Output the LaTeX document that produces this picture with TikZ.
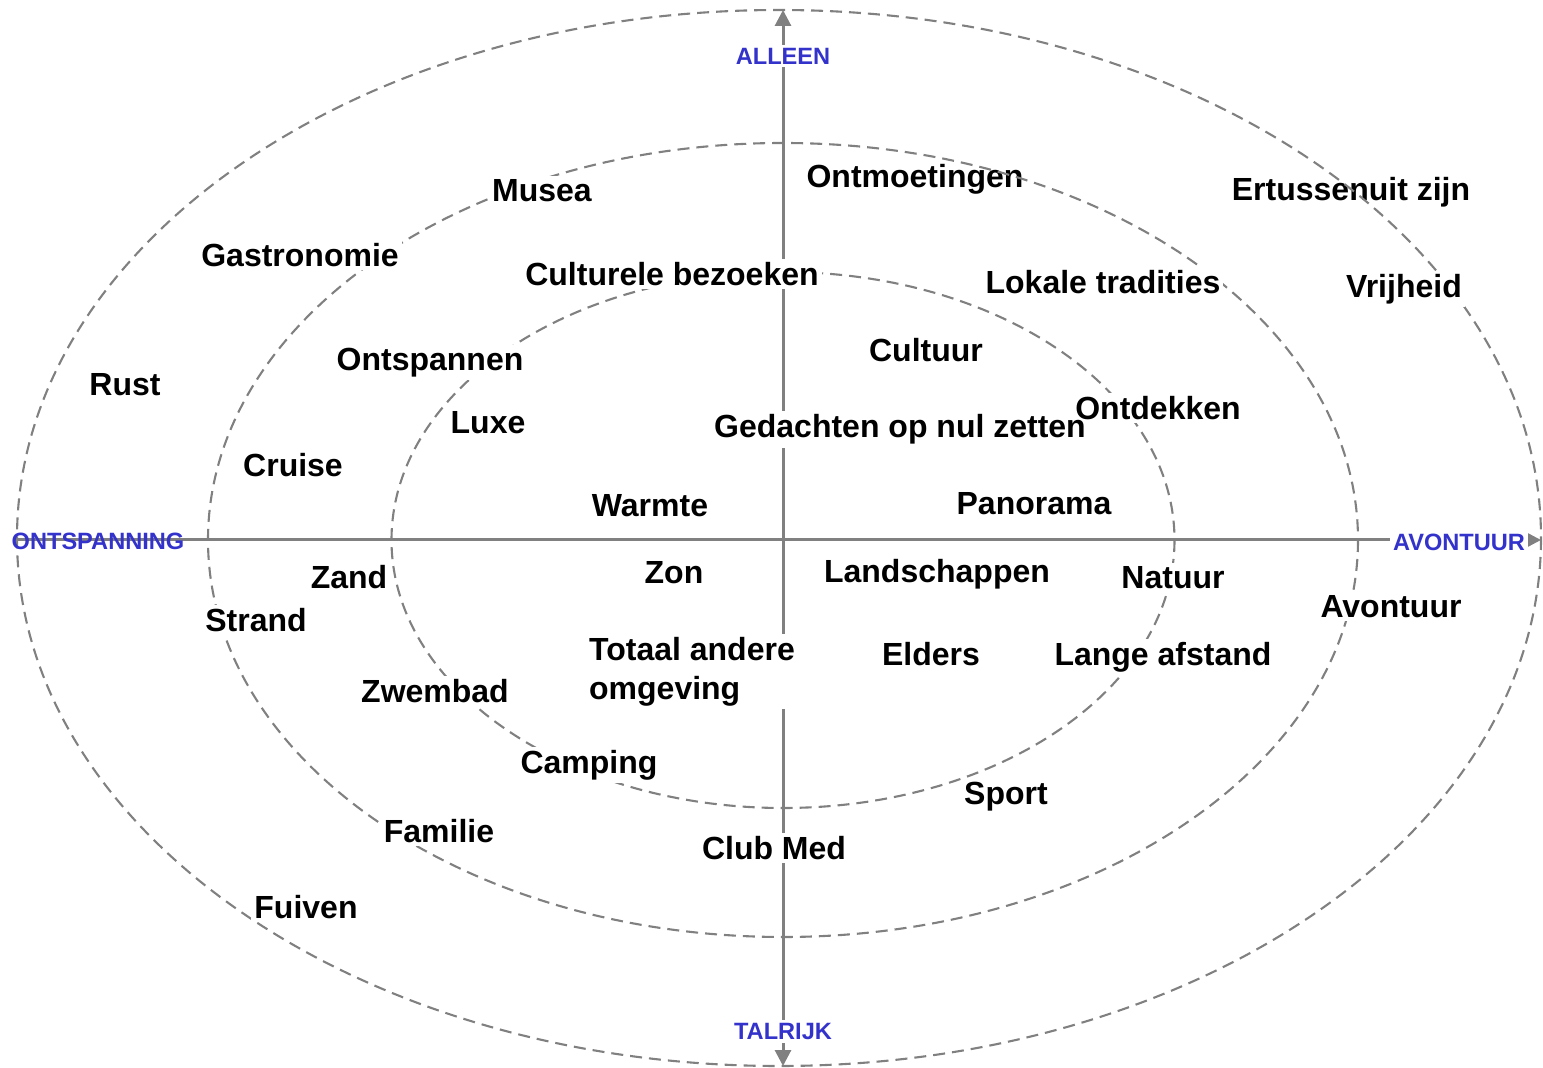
\documentclass[tikz,border=0pt]{standalone}
\usepackage{fontspec}
\setmainfont{Liberation Sans}
\usetikzlibrary{arrows.meta}
\definecolor{axisgray}{RGB}{128,128,128}
\definecolor{axisblue}{RGB}{51,51,204}
\pgfdeclarelayer{lines}
\pgfdeclarelayer{fills}
\pgfsetlayers{lines,fills,main}
\tikzset{
  lbl/.style={font=\fontsize{16pt}{19.5pt}\selectfont\bfseries, text=black, fill=white, inner sep=1.5pt, anchor=base, yshift=-5.75pt},
  lblnf/.style={lbl, fill=none},
  axlbl/.style={font=\fontsize{11.8pt}{14pt}\selectfont\bfseries, text=axisblue, fill=white, inner sep=1.5pt, anchor=base, yshift=-4.2pt},
  ring/.style={draw=axisgray, line width=1.05pt, dash pattern=on 6pt off 3.5pt},
  axisline/.style={draw=axisgray, line width=1.5pt},
  tip/.style={-{Triangle[length=8pt,width=8pt]}}
}
\begin{document}
\begin{tikzpicture}[x=0.5pt,y=-0.5pt]
\useasboundingbox (0,0) rectangle (1543,1068);
\coordinate (c) at (783,540);
\coordinate (top) at (783,10);
\coordinate (bottom) at (783,1066);
\coordinate (left) at (17,540);
\coordinate (right) at (1541,540);
\begin{pgfonlayer}{lines}
% labels crossed by the rings
\node[lblnf] (ontmoetingen) at (915,176) {Ontmoetingen};
\node[lblnf] (ertussenuit) at (1351,189) {Ertussenuit zijn};
% rings
\draw[ring] (779,538) ellipse [x radius=762, y radius=528];
\draw[ring] (c) ellipse [x radius=575, y radius=397];
\draw[ring] (c) ellipse [x radius=391.5, y radius=268];
% axes
\draw[axisline, tip] (c) -- (top);
\draw[axisline, tip] (c) -- (bottom);
\draw[axisline, tip] (c) -- (right);
\draw[axisline] (c) -- (left);
\end{pgfonlayer}
% axis labels
\node[axlbl] (alleen) at (783,56) {ALLEEN};
\node[axlbl] (talrijk) at (783,1031) {TALRIJK};
\node[axlbl] (avontuurax) at (1459,542) {AVONTUUR};
% labels
\node[lbl] (musea) at (542,190) {Musea};
\node[lbl] (gastronomie) at (300,255) {Gastronomie};
\node[lbl] (culturele) at (672,274) {Culturele bezoeken};
\node[lbl] (lokale) at (1103,282) {Lokale tradities};
\node[lbl] (vrijheid) at (1404,286) {Vrijheid};
\node[lbl] (ontspannen) at (430,359) {Ontspannen};
\node[lbl] (cultuur) at (926,350) {Cultuur};
\node[lbl] (rust) at (125,384) {Rust};
\node[lbl] (luxe) at (488,422) {Luxe};
\node[lbl] (ontdekken) at (1158,408) {Ontdekken};
\node[lblnf] (gedachten) at (900,426) {Gedachten op nul zetten};
\begin{pgfonlayer}{fills}
\fill[white] (gedachten.south west) rectangle (gedachten.north east);
\end{pgfonlayer}
\node[lbl] (cruise) at (293,465) {Cruise};
\node[lbl] (warmte) at (650,505) {Warmte};
\node[lbl] (panorama) at (1034,503) {Panorama};
\node[lbl] (zand) at (349,577) {Zand};
\node[lbl] (zon) at (674,572) {Zon};
\node[lbl] (landschappen) at (937,571) {Landschappen};
\node[lbl] (natuur) at (1173,577) {Natuur};
\node[lbl] (strand) at (256,620) {Strand};
\node[lbl] (avontuur) at (1391,606) {Avontuur};
\node[lbl, align=left] (totaal) at (692,688) {Totaal andere\\omgeving};
\node[lbl] (elders) at (931,654) {Elders};
\node[lbl] (lange) at (1163,654) {Lange afstand};
\node[lbl] (zwembad) at (435,691) {Zwembad};
\node[lbl] (camping) at (589,762) {Camping};
\node[lbl] (sport) at (1006,793) {Sport};
\node[lbl] (familie) at (439,831) {Familie};
\node[lbl] (clubmed) at (774,848) {Club Med};
\node[lbl] (fuiven) at (306,907) {Fuiven};
% left axis label drawn over the line
\node[axlbl, fill=none] (ontspanning) at (98,541) {ONTSPANNING};
\end{tikzpicture}
\end{document}
